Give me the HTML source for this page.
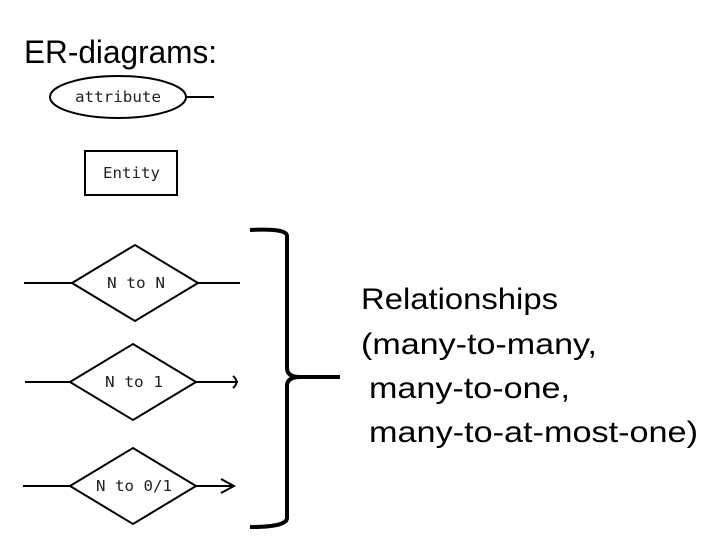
<!DOCTYPE html>
<html><head><style>
html,body{margin:0;padding:0;background:#fff;}
svg{display:block;}
.m{font-family:"DejaVu Sans Mono","Liberation Mono",monospace;font-size:15px;fill:#222;}
.s{font-family:"Liberation Sans",sans-serif;fill:#000;}
</style></head><body>
<svg width="715" height="551" viewBox="0 0 715 551" xmlns="http://www.w3.org/2000/svg">
<text class="s" x="24" y="63" font-size="32" textLength="193" lengthAdjust="spacingAndGlyphs">ER-diagrams:</text>
<ellipse cx="118" cy="97" rx="68" ry="21" fill="none" stroke="#000" stroke-width="2"/>
<text class="m" x="75" y="102" textLength="86" lengthAdjust="spacingAndGlyphs">attribute</text>
<line x1="186" y1="97" x2="214" y2="97" stroke="#000" stroke-width="2"/>
<rect x="85" y="151" width="92" height="44" fill="none" stroke="#000" stroke-width="2"/>
<text class="m" x="103" y="178" textLength="57" lengthAdjust="spacingAndGlyphs">Entity</text>
<g stroke="#000" stroke-width="2" fill="none">
<polygon points="72,283 135,245 198,283 135,321"/>
<line x1="24" y1="283" x2="72" y2="283"/><line x1="198" y1="283" x2="240" y2="283"/>
<polygon points="70,382 133,344 196,382 133,420"/>
<line x1="25" y1="382" x2="70" y2="382"/><line x1="196" y1="382" x2="238" y2="382"/>
<path d="M233,376 Q240,382 233,388"/>
<polygon points="70,486 133,448 196,486 133,524"/>
<line x1="23" y1="486" x2="70" y2="486"/><line x1="196" y1="486" x2="234" y2="486"/>
<path d="M221,479 L234,486 L221,493"/>
<path d="M250,230 Q287,228 287,236 L287,368 Q287,377 300,377 L340,377 M300,377 Q287,377 287,386 L287,518 Q287,527 250,527" stroke-width="4"/>
</g>
<text class="m" x="107" y="288" textLength="58" lengthAdjust="spacingAndGlyphs">N to N</text>
<text class="m" x="105" y="387" textLength="58" lengthAdjust="spacingAndGlyphs">N to 1</text>
<text class="m" x="96" y="491" textLength="76" lengthAdjust="spacingAndGlyphs">N to 0/1</text>
<g class="s" font-size="30">
<text x="361" y="309" textLength="197" lengthAdjust="spacingAndGlyphs">Relationships</text>
<text x="361" y="354" textLength="236" lengthAdjust="spacingAndGlyphs">(many-to-many,</text>
<text x="369" y="398" textLength="201" lengthAdjust="spacingAndGlyphs">many-to-one,</text>
<text x="369" y="442" textLength="329" lengthAdjust="spacingAndGlyphs">many-to-at-most-one)</text>
</g>
</svg>
</body></html>
